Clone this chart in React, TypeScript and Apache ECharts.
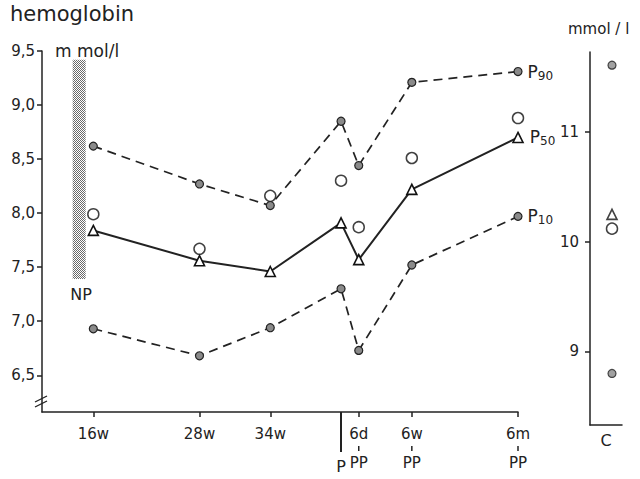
import { useEffect, useRef } from "react";
import * as echarts from "echarts";

// Haemoglobin percentiles over pregnancy and post partum (mmol/l)
const timeLabels = ["16w", "28w", "34w", "P", "6d", "6w", "6m"];
// slots along the (non-linear) time axis
const timeSlots = [0, 6, 10, 14, 15, 18, 24];
const postPartum = ["6d", "6w", "6m"];

const p90 = [8.62, 8.27, 8.07, 8.85, 8.44, 9.21, 9.31];
const p50 = [7.84, 7.56, 7.46, 7.91, 7.57, 8.22, 8.7];
const p10 = [6.93, 6.68, 6.94, 7.3, 6.73, 7.52, 7.97];
const means = [7.99, 7.67, 8.16, 8.3, 7.87, 8.51, 8.88];

// non-pregnant reference range
const npRange = [7.39, 9.42];
const npSlot = -0.8;

// control group
const controlCategory = ["C"];
const controlP90 = 11.61;
const controlP50 = 10.25;
const controlMean = 10.12;
const controlP10 = 8.8;

const leftTicks = [6.5, 7, 7.5, 8, 8.5, 9, 9.5];
const rightTicks = [9, 10, 11];

const FONT = "DejaVu Sans";
const INK = "#222";

function stipple(): HTMLCanvasElement {
  const c = document.createElement("canvas");
  c.width = 2;
  c.height = 2;
  const ctx = c.getContext("2d")!;
  ctx.fillStyle = "#fff";
  ctx.fillRect(0, 0, 2, 2);
  ctx.fillStyle = "#6a6a6a";
  ctx.fillRect(0, 0, 1, 1);
  ctx.fillRect(1, 1, 1, 1);
  return c;
}

const pLabel = (sub: string) => ({
  show: true,
  position: "right" as const,
  distance: 5,
  formatter: `{p|P}{s|${sub}}`,
  rich: {
    p: { fontFamily: FONT, fontSize: 17, lineHeight: 20, color: INK },
    s: { fontFamily: FONT, fontSize: 12, lineHeight: 10, color: INK, verticalAlign: "bottom" },
  },
});

function withEndLabel(values: number[], sub: string, distance: number) {
  return timeSlots.map((x, i) =>
    i === timeSlots.length - 1
      ? { value: [x, values[i]], label: { ...pLabel(sub), distance } }
      : { value: [x, values[i]] }
  );
}

const dotStyle = { color: "#8a8a8a", borderColor: "#222", borderWidth: 1.2 };
const triStyle = { color: "#fff", borderColor: "#111", borderWidth: 1.6 };
const ringStyle = { color: "#fff", borderColor: "#111", borderWidth: 1.5 };

const axisInk = { color: INK, width: 1.5 };

export default function App() {
  const ref = useRef<HTMLDivElement>(null);

  useEffect(() => {
    if (!ref.current) return;
    const chart = echarts.init(ref.current, undefined, { renderer: "svg" });
    const pattern = { image: stipple(), repeat: "repeat" };

    const xLabel = (v: number) => {
      const i = timeSlots.indexOf(v);
      if (i < 0) return "";
      const t = timeLabels[i];
      return postPartum.includes(t) ? `{a|${t}}\n{t| }\n{a|PP}` : `{a|${t}}`;
    };
    const partusSlot = timeSlots[timeLabels.indexOf("P")];
    const datedSlots = timeSlots.filter((_, i) => timeLabels[i] !== "P");

    chart.setOption({
      animation: false,
      backgroundColor: "#fff",
      textStyle: { fontFamily: FONT, color: INK },
      grid: [
        { left: 42, top: 51, width: 476, height: 361 },
        { left: 590, top: 52, width: 32, height: 373 },
      ],
      xAxis: [
        {
          type: "value",
          gridIndex: 0,
          min: -2.9,
          max: 24,
          splitLine: { show: false },
          axisLine: { show: true, onZero: false, lineStyle: axisInk },
          axisTick: {
            show: true,
            customValues: datedSlots,
            length: 5,
            lineStyle: axisInk,
          },
          axisLabel: {
            show: true,
            customValues: datedSlots,
            formatter: xLabel,
            margin: 14,
            rich: {
              a: { fontFamily: FONT, fontSize: 15, lineHeight: 16, color: INK, align: "center" },
              t: {
                fontSize: 1,
                width: 1.5,
                height: 5,
                lineHeight: 13,
                backgroundColor: INK,
                align: "center",
              },
            },
          },
        },
        {
          // partus marker
          type: "value",
          gridIndex: 0,
          min: -2.9,
          max: 24,
          position: "bottom",
          splitLine: { show: false },
          axisLine: { show: false, onZero: false },
          axisTick: {
            show: true,
            customValues: [partusSlot],
            length: 40,
            lineStyle: { color: INK, width: 2 },
          },
          axisLabel: {
            show: true,
            customValues: [partusSlot],
            formatter: () => "{a|P}",
            margin: 46,
            rich: {
              a: { fontFamily: FONT, fontSize: 16, lineHeight: 16, color: INK, align: "center" },
            },
          },
        },
        {
          type: "category",
          gridIndex: 1,
          data: controlCategory,
          axisLine: { show: true, onZero: false, lineStyle: axisInk },
          axisTick: { show: false },
          axisLabel: { margin: 7, fontFamily: FONT, fontSize: 16, color: INK },
        },
      ],
      yAxis: [
        {
          type: "value",
          gridIndex: 0,
          min: 6.16,
          max: 9.5,
          name: "m mol/l",
          nameLocation: "end",
          nameGap: 0,
          nameTextStyle: {
            fontFamily: FONT,
            fontSize: 17,
            color: INK,
            align: "left",
            verticalAlign: "middle",
            padding: [0, 0, 0, 13],
          },
          splitLine: { show: false },
          axisLine: { show: true, onZero: false, lineStyle: axisInk },
          axisTick: { show: true, customValues: leftTicks, length: 5, lineStyle: axisInk },
          axisLabel: {
            show: true,
            customValues: leftTicks,
            formatter: (v: number) => v.toFixed(1).replace(".", ","),
            margin: 7,
            fontFamily: FONT,
            fontSize: 15,
            color: INK,
          },
        },
        {
          type: "value",
          gridIndex: 1,
          min: 8.33,
          max: 11.73,
          splitLine: { show: false },
          axisLine: { show: true, onZero: false, lineStyle: axisInk },
          axisTick: { show: true, customValues: rightTicks, length: 5, lineStyle: axisInk },
          axisLabel: {
            show: true,
            customValues: rightTicks,
            margin: 11,
            fontFamily: FONT,
            fontSize: 15,
            color: INK,
          },
        },
      ],
      graphic: [
        {
          type: "text",
          left: 10,
          top: 3,
          style: { text: "hemoglobin", font: `21px "${FONT}"`, fill: INK },
        },
        {
          type: "text",
          left: 568,
          top: 21,
          style: { text: "mmol / l", font: `15px "${FONT}"`, fill: INK },
        },
        // axis break on the left axis
        {
          type: "group",
          children: [
            { type: "rect", shape: { x: 39, y: 398, width: 7, height: 6 }, style: { fill: "#fff" } },
            { type: "line", shape: { x1: 35, y1: 402, x2: 47, y2: 396 }, style: { stroke: INK, lineWidth: 1.3 } },
            { type: "line", shape: { x1: 35, y1: 407, x2: 47, y2: 401 }, style: { stroke: INK, lineWidth: 1.3 } },
          ],
        },
      ],
      series: [
        {
          type: "custom",
          xAxisIndex: 0,
          yAxisIndex: 0,
          silent: true,
          data: [[npSlot, npRange[0], npRange[1]]],
          renderItem: (_p: any, api: any) => {
            const top = api.coord([api.value(0), api.value(2)]);
            const bottom = api.coord([api.value(0), api.value(1)]);
            const w = 13;
            return {
              type: "group",
              children: [
                {
                  type: "rect",
                  shape: { x: top[0] - w / 2, y: top[1], width: w, height: bottom[1] - top[1] },
                  style: { fill: pattern },
                },
                {
                  type: "text",
                  style: {
                    text: "NP",
                    x: bottom[0] + 2,
                    y: bottom[1] + 15,
                    align: "center",
                    verticalAlign: "middle",
                    font: `16px "${FONT}"`,
                    fill: INK,
                  },
                },
              ],
            };
          },
        },
        {
          name: "P90",
          type: "line",
          xAxisIndex: 0,
          yAxisIndex: 0,
          clip: false,
          silent: true,
          symbol: "circle",
          symbolSize: 8,
          itemStyle: dotStyle,
          lineStyle: { color: INK, width: 1.7, type: [9, 6] },
          data: withEndLabel(p90, "90", 5),
        },
        {
          name: "P50",
          type: "line",
          xAxisIndex: 0,
          yAxisIndex: 0,
          clip: false,
          silent: true,
          symbol: "triangle",
          symbolSize: 10,
          itemStyle: triStyle,
          lineStyle: { color: INK, width: 2 },
          data: withEndLabel(p50, "50", 6),
        },
        {
          name: "P10",
          type: "line",
          xAxisIndex: 0,
          yAxisIndex: 0,
          clip: false,
          silent: true,
          symbol: "circle",
          symbolSize: 8,
          itemStyle: dotStyle,
          lineStyle: { color: INK, width: 1.7, type: [9, 6] },
          data: withEndLabel(p10, "10", 5),
        },
        {
          name: "mean",
          type: "scatter",
          xAxisIndex: 0,
          yAxisIndex: 0,
          clip: false,
          silent: true,
          symbol: "circle",
          symbolSize: 11,
          itemStyle: ringStyle,
          data: timeSlots.map((x, i) => [x, means[i]]),
        },
        {
          type: "scatter",
          xAxisIndex: 2,
          yAxisIndex: 1,
          silent: true,
          symbol: "circle",
          symbolSize: 8,
          symbolOffset: [6, 0],
          itemStyle: dotStyle,
          data: [
            [controlCategory[0], controlP90],
            [controlCategory[0], controlP10],
          ],
        },
        {
          type: "scatter",
          xAxisIndex: 2,
          yAxisIndex: 1,
          silent: true,
          symbol: "triangle",
          symbolSize: 10,
          symbolOffset: [6, 0],
          itemStyle: triStyle,
          data: [[controlCategory[0], controlP50]],
        },
        {
          type: "scatter",
          xAxisIndex: 2,
          yAxisIndex: 1,
          silent: true,
          symbol: "circle",
          symbolSize: 11,
          symbolOffset: [6, 0],
          itemStyle: ringStyle,
          data: [[controlCategory[0], controlMean]],
        },
      ],
    });

    return () => chart.dispose();
  }, []);

  return (
    <div
      ref={ref}
      style={{ position: "fixed", left: 0, top: 0, width: 640, height: 479 }}
    />
  );
}
